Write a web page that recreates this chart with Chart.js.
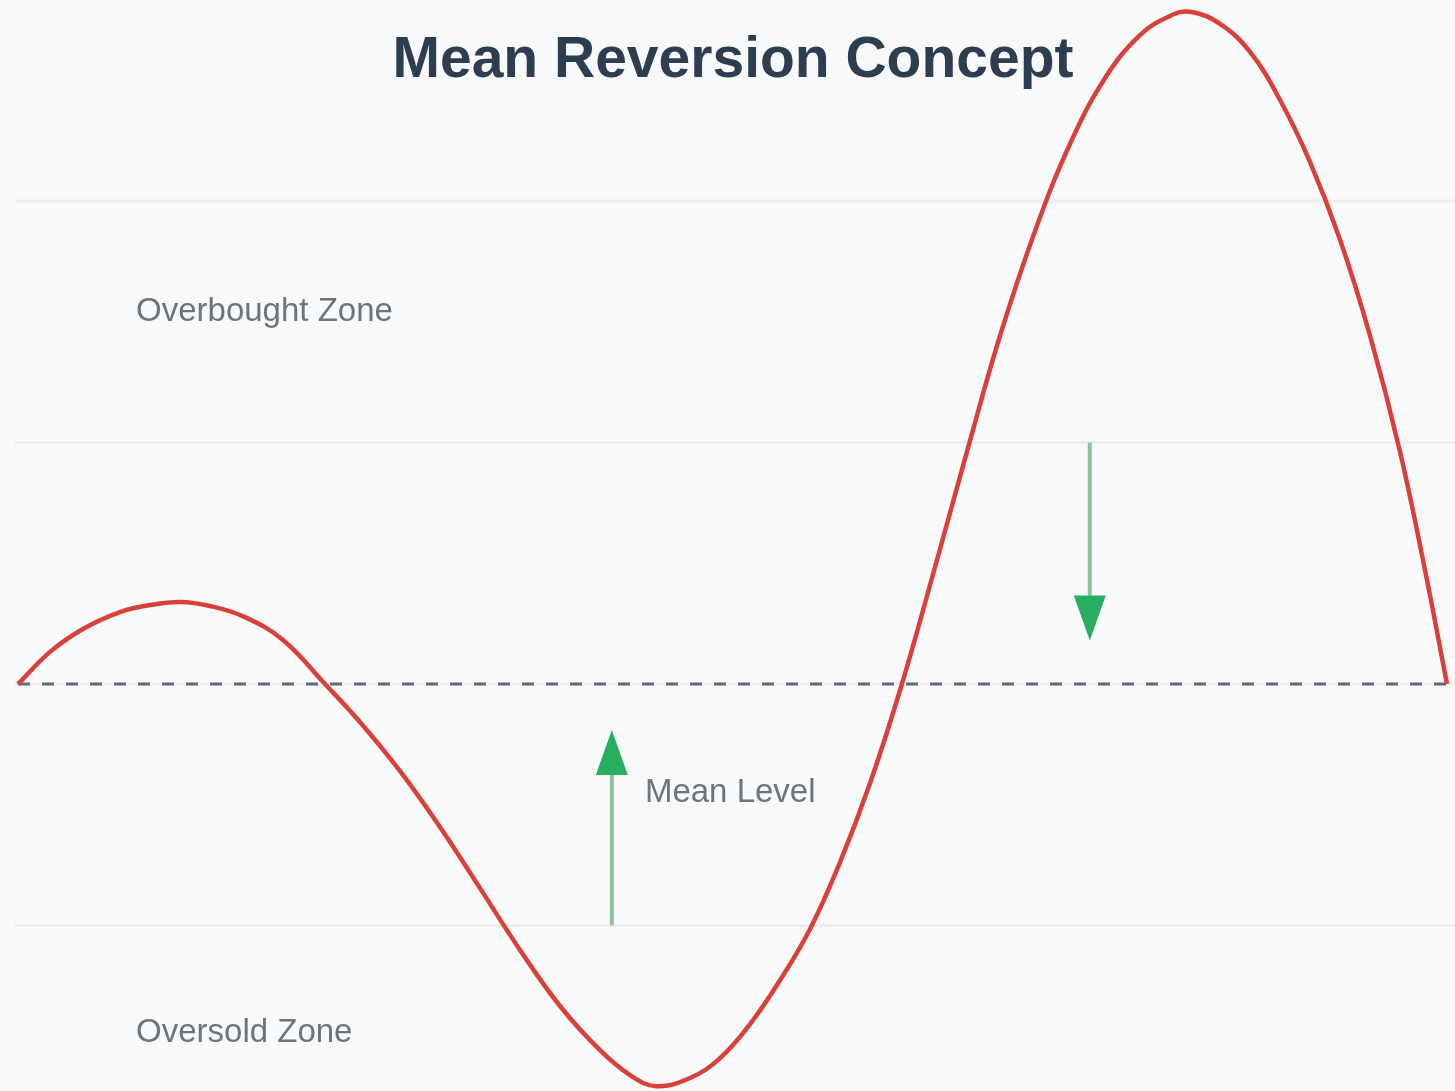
<!DOCTYPE html>
<html>
<head>
<meta charset="utf-8">
<title>Mean Reversion Concept</title>
<script src="https://cdn.jsdelivr.net/npm/chart.js"></script>
<style>
  html, body { margin: 0; padding: 0; background: #f8f9fa; }
  #wrap { width: 1455px; height: 1091px; position: relative; }
</style>
</head>
<body>
<div id="wrap"><canvas id="meanChart"></canvas></div>
<script>
// price path (time, deviation from mean; 1 unit = one zone band)
const timeSteps = [9.9, 27.5, 45.6, 66.0, 82.5, 99.0, 115.5, 134.7, 155.6, 178.7,
  197.9, 219.9, 241.9, 263.9, 285.9, 307.9, 329.9, 346.4, 360.7, 379.4, 395.9, 412.4,
  428.9, 445.4, 461.9, 478.4, 495.9, 514.1, 532.2, 549.8, 569.1, 588.3, 607.6, 626.8,
  643.3, 654.3, 670.8, 687.3, 703.8, 720.3, 736.8, 753.3, 769.8, 783.5, 795.6];
const priceValues = [0, 0.133, 0.228, 0.298, 0.327, 0.340, 0.323, 0.277, 0.182, 0,
  -0.157, -0.360, -0.592, -0.845, -1.101, -1.333, -1.516, -1.619, -1.665, -1.631, -1.549, -1.408,
  -1.226, -1.014, -0.737, -0.410, 0, 0.484, 0.977, 1.441, 1.876, 2.236, 2.509, 2.687,
  2.766, 2.783, 2.733, 2.617, 2.418, 2.161, 1.839, 1.441, 0.961, 0.472, 0];

const meanLevel = 0;
const zoneLines = [-1, 0, 1, 2];

// arrows: x position, tail value, tip value
const arrowX = [336.4, 599.2];
const arrowFrom = [-1, 1];
const arrowTo = [-0.19, 0.18];

// text labels
const titleText = 'Mean Reversion Concept';
const labelTexts = ['Overbought Zone', 'Oversold Zone', 'Mean Level'];
const labelX = [74.8, 74.8, 354.6];
const labelY = [1.54, -1.445, -0.45];

const FONT = '"Liberation Sans", Arial, Helvetica, sans-serif';

const decorPlugin = {
    id: 'decor',
    beforeDatasetsDraw(chart) {
        const { ctx, scales: { x, y } } = chart;
        ctx.save();
        ctx.strokeStyle = '#eceef0';
        ctx.lineWidth = 3;
        zoneLines.forEach(v => {
            const py = y.getPixelForValue(v);
            ctx.beginPath();
            ctx.moveTo(x.getPixelForValue(8.2), py);
            ctx.lineTo(chart.chartArea.right, py);
            ctx.stroke();
        });

        // zone labels
        ctx.fillStyle = '#6c757d';
        ctx.font = '33px ' + FONT;
        ctx.textBaseline = 'middle';
        ctx.textAlign = 'left';
        labelTexts.forEach((t, i) => {
            ctx.fillText(t, x.getPixelForValue(labelX[i]), y.getPixelForValue(labelY[i]));
        });

        // arrows back to the mean
        arrowX.forEach((ax, i) => {
            const px = x.getPixelForValue(ax);
            const p0 = y.getPixelForValue(arrowFrom[i]);
            const p1 = y.getPixelForValue(arrowTo[i]);
            const dir = p1 < p0 ? -1 : 1;
            const headLen = 45, headHalf = 16;
            ctx.strokeStyle = '#8cbf9c';
            ctx.lineWidth = 4;
            ctx.beginPath();
            ctx.moveTo(px, p0);
            ctx.lineTo(px, p1 - dir * headLen);
            ctx.stroke();
            ctx.fillStyle = '#27ae60';
            ctx.beginPath();
            ctx.moveTo(px, p1);
            ctx.lineTo(px - headHalf, p1 - dir * headLen);
            ctx.lineTo(px + headHalf, p1 - dir * headLen);
            ctx.closePath();
            ctx.fill();
        });
        ctx.restore();
    },
    afterDatasetsDraw(chart) {
        const { ctx, scales: { x, y } } = chart;
        ctx.save();
        ctx.fillStyle = '#2c3e50';
        ctx.font = 'bold 57px ' + FONT;
        ctx.textAlign = 'center';
        ctx.textBaseline = 'middle';
        ctx.fillText(titleText, x.getPixelForValue(403), y.getPixelForValue(2.58));
        ctx.restore();
    }
};

new Chart(document.getElementById('meanChart'), {
    type: 'line',
    data: {
        datasets: [
            {
                label: 'Price',
                data: timeSteps.map((t, i) => ({ x: t, y: priceValues[i] })),
                borderColor: '#d9403a',
                borderWidth: 4.5,
                pointRadius: 0,
                tension: 0.4,
                fill: false
            },
            {
                label: 'Mean',
                data: [
                    { x: timeSteps[0], y: meanLevel },
                    { x: timeSteps[timeSteps.length - 1], y: meanLevel }
                ],
                borderColor: '#5d6d7e',
                borderWidth: 3,
                borderDash: [12, 12],
                pointRadius: 0,
                fill: false
            }
        ]
    },
    options: {
        responsive: true,
        maintainAspectRatio: false,
        animation: false,
        layout: { padding: 0 },
        plugins: {
            legend: { display: false },
            tooltip: { enabled: false },
            title: { display: false }
        },
        scales: {
            x: { type: 'linear', min: 0, max: 800, display: false },
            y: { type: 'linear', min: -1.685, max: 2.832, display: false }
        }
    },
    plugins: [decorPlugin]
});
</script>
</body>
</html>
